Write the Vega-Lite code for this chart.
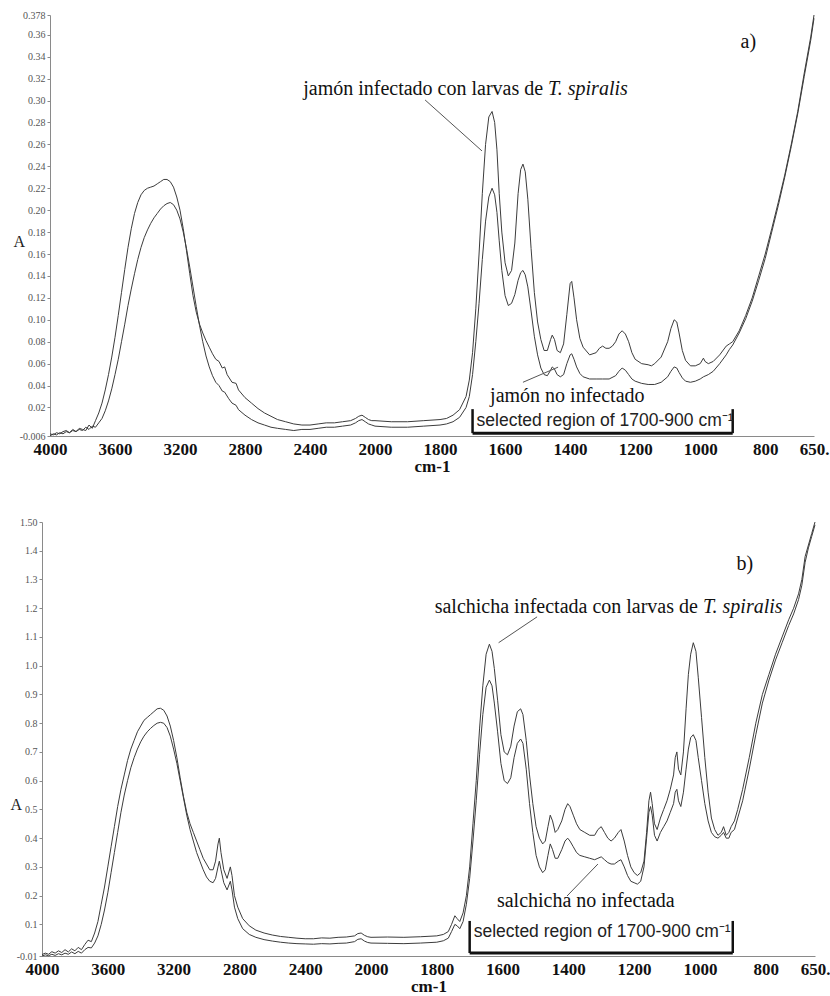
{
"$schema": "https://vega.github.io/schema/vega-lite/v6.json",
"background": "white",
"padding": {"left": 10, "top": 10, "right": 0, "bottom": 0},
"bounds": "flush",
"spacing": 86,
"config": {"view": {"stroke": null}, "font": "Liberation Serif"},
"datasets": {
"a": [
{"series":"inf","wn":4000,"abs":-0.004},{"series":"inf","wn":3980,"abs":-0.005},{"series":"inf","wn":3960,"abs":-0.003},{"series":"inf","wn":3940,"abs":-0.004},{"series":"inf","wn":3920,"abs":-0.002},{"series":"inf","wn":3900,"abs":-0.001},{"series":"inf","wn":3880,"abs":-0.003},{"series":"inf","wn":3860,"abs":0.0},{"series":"inf","wn":3840,"abs":-0.002},{"series":"inf","wn":3820,"abs":0.001},{"series":"inf","wn":3800,"abs":0.0},{"series":"inf","wn":3780,"abs":-0.001},{"series":"inf","wn":3760,"abs":0.004},{"series":"inf","wn":3740,"abs":0.001},{"series":"inf","wn":3720,"abs":0.008},{"series":"inf","wn":3700,"abs":0.015},{"series":"inf","wn":3680,"abs":0.024},{"series":"inf","wn":3660,"abs":0.036},{"series":"inf","wn":3640,"abs":0.05},{"series":"inf","wn":3620,"abs":0.066},{"series":"inf","wn":3600,"abs":0.084},{"series":"inf","wn":3580,"abs":0.104},{"series":"inf","wn":3560,"abs":0.125},{"series":"inf","wn":3540,"abs":0.146},{"series":"inf","wn":3520,"abs":0.166},{"series":"inf","wn":3500,"abs":0.183},{"series":"inf","wn":3480,"abs":0.197},{"series":"inf","wn":3460,"abs":0.207},{"series":"inf","wn":3440,"abs":0.214},{"series":"inf","wn":3420,"abs":0.218},{"series":"inf","wn":3400,"abs":0.22},{"series":"inf","wn":3380,"abs":0.221},{"series":"inf","wn":3360,"abs":0.222},{"series":"inf","wn":3340,"abs":0.224},{"series":"inf","wn":3320,"abs":0.226},{"series":"inf","wn":3300,"abs":0.228},{"series":"inf","wn":3280,"abs":0.228},{"series":"inf","wn":3260,"abs":0.226},{"series":"inf","wn":3240,"abs":0.221},{"series":"inf","wn":3220,"abs":0.212},{"series":"inf","wn":3200,"abs":0.2},{"series":"inf","wn":3180,"abs":0.183},{"series":"inf","wn":3160,"abs":0.163},{"series":"inf","wn":3140,"abs":0.142},{"series":"inf","wn":3120,"abs":0.122},{"series":"inf","wn":3100,"abs":0.107},{"series":"inf","wn":3080,"abs":0.096},{"series":"inf","wn":3060,"abs":0.088},{"series":"inf","wn":3040,"abs":0.081},{"series":"inf","wn":3020,"abs":0.075},{"series":"inf","wn":3000,"abs":0.069},{"series":"inf","wn":2980,"abs":0.064},{"series":"inf","wn":2960,"abs":0.062},{"series":"inf","wn":2940,"abs":0.056},{"series":"inf","wn":2925,"abs":0.057},{"series":"inf","wn":2910,"abs":0.05},{"series":"inf","wn":2880,"abs":0.043},{"series":"inf","wn":2855,"abs":0.042},{"series":"inf","wn":2840,"abs":0.036},{"series":"inf","wn":2800,"abs":0.029},{"series":"inf","wn":2760,"abs":0.024},{"series":"inf","wn":2720,"abs":0.019},{"series":"inf","wn":2680,"abs":0.015},{"series":"inf","wn":2640,"abs":0.012},{"series":"inf","wn":2600,"abs":0.009},{"series":"inf","wn":2550,"abs":0.007},{"series":"inf","wn":2500,"abs":0.005},{"series":"inf","wn":2450,"abs":0.004},{"series":"inf","wn":2400,"abs":0.004},{"series":"inf","wn":2350,"abs":0.005},{"series":"inf","wn":2300,"abs":0.006},{"series":"inf","wn":2250,"abs":0.006},{"series":"inf","wn":2200,"abs":0.007},{"series":"inf","wn":2150,"abs":0.008},{"series":"inf","wn":2120,"abs":0.01},{"series":"inf","wn":2100,"abs":0.012},{"series":"inf","wn":2080,"abs":0.013},{"series":"inf","wn":2060,"abs":0.011},{"series":"inf","wn":2040,"abs":0.009},{"series":"inf","wn":2020,"abs":0.008},{"series":"inf","wn":2000,"abs":0.008},{"series":"inf","wn":1950,"abs":0.007},{"series":"inf","wn":1900,"abs":0.007},{"series":"inf","wn":1850,"abs":0.008},{"series":"inf","wn":1800,"abs":0.009},{"series":"inf","wn":1780,"abs":0.01},{"series":"inf","wn":1760,"abs":0.013},{"series":"inf","wn":1740,"abs":0.018},{"series":"inf","wn":1720,"abs":0.03},{"series":"inf","wn":1710,"abs":0.045},{"series":"inf","wn":1700,"abs":0.07},{"series":"inf","wn":1690,"abs":0.11},{"series":"inf","wn":1680,"abs":0.16},{"series":"inf","wn":1670,"abs":0.215},{"series":"inf","wn":1660,"abs":0.26},{"series":"inf","wn":1650,"abs":0.285},{"series":"inf","wn":1640,"abs":0.29},{"series":"inf","wn":1632,"abs":0.28},{"series":"inf","wn":1625,"abs":0.255},{"series":"inf","wn":1618,"abs":0.215},{"series":"inf","wn":1610,"abs":0.18},{"series":"inf","wn":1600,"abs":0.152},{"series":"inf","wn":1590,"abs":0.14},{"series":"inf","wn":1580,"abs":0.145},{"series":"inf","wn":1570,"abs":0.17},{"series":"inf","wn":1560,"abs":0.215},{"series":"inf","wn":1552,"abs":0.237},{"series":"inf","wn":1545,"abs":0.242},{"series":"inf","wn":1538,"abs":0.235},{"series":"inf","wn":1530,"abs":0.21},{"series":"inf","wn":1520,"abs":0.165},{"series":"inf","wn":1510,"abs":0.125},{"series":"inf","wn":1500,"abs":0.098},{"series":"inf","wn":1490,"abs":0.082},{"series":"inf","wn":1480,"abs":0.072},{"series":"inf","wn":1470,"abs":0.072},{"series":"inf","wn":1460,"abs":0.082},{"series":"inf","wn":1455,"abs":0.086},{"series":"inf","wn":1448,"abs":0.082},{"series":"inf","wn":1440,"abs":0.072},{"series":"inf","wn":1430,"abs":0.07},{"series":"inf","wn":1420,"abs":0.078},{"series":"inf","wn":1410,"abs":0.105},{"series":"inf","wn":1400,"abs":0.133},{"series":"inf","wn":1395,"abs":0.135},{"series":"inf","wn":1388,"abs":0.12},{"series":"inf","wn":1380,"abs":0.1},{"series":"inf","wn":1370,"abs":0.083},{"series":"inf","wn":1360,"abs":0.075},{"series":"inf","wn":1340,"abs":0.068},{"series":"inf","wn":1320,"abs":0.07},{"series":"inf","wn":1310,"abs":0.074},{"series":"inf","wn":1300,"abs":0.076},{"series":"inf","wn":1290,"abs":0.074},{"series":"inf","wn":1280,"abs":0.074},{"series":"inf","wn":1270,"abs":0.076},{"series":"inf","wn":1260,"abs":0.08},{"series":"inf","wn":1250,"abs":0.087},{"series":"inf","wn":1240,"abs":0.09},{"series":"inf","wn":1230,"abs":0.087},{"series":"inf","wn":1220,"abs":0.08},{"series":"inf","wn":1210,"abs":0.07},{"series":"inf","wn":1200,"abs":0.064},{"series":"inf","wn":1180,"abs":0.06},{"series":"inf","wn":1160,"abs":0.059},{"series":"inf","wn":1150,"abs":0.058},{"series":"inf","wn":1140,"abs":0.06},{"series":"inf","wn":1120,"abs":0.066},{"series":"inf","wn":1100,"abs":0.08},{"series":"inf","wn":1090,"abs":0.092},{"series":"inf","wn":1080,"abs":0.1},{"series":"inf","wn":1072,"abs":0.098},{"series":"inf","wn":1065,"abs":0.088},{"series":"inf","wn":1055,"abs":0.072},{"series":"inf","wn":1045,"abs":0.063},{"series":"inf","wn":1030,"abs":0.058},{"series":"inf","wn":1015,"abs":0.058},{"series":"inf","wn":1000,"abs":0.06},{"series":"inf","wn":990,"abs":0.065},{"series":"inf","wn":985,"abs":0.062},{"series":"inf","wn":975,"abs":0.06},{"series":"inf","wn":960,"abs":0.062},{"series":"inf","wn":940,"abs":0.068},{"series":"inf","wn":920,"abs":0.076},{"series":"inf","wn":910,"abs":0.078},{"series":"inf","wn":900,"abs":0.08},{"series":"inf","wn":880,"abs":0.09},{"series":"inf","wn":860,"abs":0.104},{"series":"inf","wn":840,"abs":0.12},{"series":"inf","wn":820,"abs":0.14},{"series":"inf","wn":800,"abs":0.16},{"series":"inf","wn":780,"abs":0.183},{"series":"inf","wn":760,"abs":0.207},{"series":"inf","wn":740,"abs":0.232},{"series":"inf","wn":720,"abs":0.26},{"series":"inf","wn":700,"abs":0.29},{"series":"inf","wn":680,"abs":0.325},{"series":"inf","wn":660,"abs":0.358},{"series":"inf","wn":650,"abs":0.378},
{"series":"non","wn":4000,"abs":-0.006},{"series":"non","wn":3980,"abs":-0.004},{"series":"non","wn":3960,"abs":-0.005},{"series":"non","wn":3940,"abs":-0.003},{"series":"non","wn":3920,"abs":-0.004},{"series":"non","wn":3900,"abs":-0.002},{"series":"non","wn":3880,"abs":-0.003},{"series":"non","wn":3860,"abs":-0.001},{"series":"non","wn":3840,"abs":-0.002},{"series":"non","wn":3820,"abs":0.0},{"series":"non","wn":3800,"abs":-0.001},{"series":"non","wn":3780,"abs":0.002},{"series":"non","wn":3760,"abs":0.0},{"series":"non","wn":3740,"abs":0.003},{"series":"non","wn":3720,"abs":0.002},{"series":"non","wn":3700,"abs":0.006},{"series":"non","wn":3680,"abs":0.01},{"series":"non","wn":3660,"abs":0.017},{"series":"non","wn":3640,"abs":0.026},{"series":"non","wn":3620,"abs":0.037},{"series":"non","wn":3600,"abs":0.05},{"series":"non","wn":3580,"abs":0.064},{"series":"non","wn":3560,"abs":0.08},{"series":"non","wn":3540,"abs":0.096},{"series":"non","wn":3520,"abs":0.113},{"series":"non","wn":3500,"abs":0.128},{"series":"non","wn":3480,"abs":0.142},{"series":"non","wn":3460,"abs":0.155},{"series":"non","wn":3440,"abs":0.166},{"series":"non","wn":3420,"abs":0.175},{"series":"non","wn":3400,"abs":0.182},{"series":"non","wn":3380,"abs":0.188},{"series":"non","wn":3360,"abs":0.193},{"series":"non","wn":3340,"abs":0.197},{"series":"non","wn":3320,"abs":0.201},{"series":"non","wn":3300,"abs":0.204},{"series":"non","wn":3280,"abs":0.206},{"series":"non","wn":3260,"abs":0.207},{"series":"non","wn":3240,"abs":0.205},{"series":"non","wn":3220,"abs":0.2},{"series":"non","wn":3200,"abs":0.192},{"series":"non","wn":3180,"abs":0.18},{"series":"non","wn":3160,"abs":0.165},{"series":"non","wn":3140,"abs":0.148},{"series":"non","wn":3120,"abs":0.13},{"series":"non","wn":3100,"abs":0.112},{"series":"non","wn":3080,"abs":0.095},{"series":"non","wn":3060,"abs":0.08},{"series":"non","wn":3040,"abs":0.067},{"series":"non","wn":3020,"abs":0.057},{"series":"non","wn":3000,"abs":0.049},{"series":"non","wn":2980,"abs":0.043},{"series":"non","wn":2960,"abs":0.04},{"series":"non","wn":2940,"abs":0.035},{"series":"non","wn":2925,"abs":0.034},{"series":"non","wn":2900,"abs":0.028},{"series":"non","wn":2880,"abs":0.024},{"series":"non","wn":2855,"abs":0.022},{"series":"non","wn":2840,"abs":0.018},{"series":"non","wn":2800,"abs":0.013},{"series":"non","wn":2760,"abs":0.009},{"series":"non","wn":2720,"abs":0.006},{"series":"non","wn":2680,"abs":0.004},{"series":"non","wn":2640,"abs":0.002},{"series":"non","wn":2600,"abs":0.001},{"series":"non","wn":2550,"abs":0.0},{"series":"non","wn":2500,"abs":-0.001},{"series":"non","wn":2450,"abs":0.0},{"series":"non","wn":2400,"abs":0.0},{"series":"non","wn":2350,"abs":0.001},{"series":"non","wn":2300,"abs":0.002},{"series":"non","wn":2250,"abs":0.002},{"series":"non","wn":2200,"abs":0.003},{"series":"non","wn":2150,"abs":0.004},{"series":"non","wn":2120,"abs":0.006},{"series":"non","wn":2100,"abs":0.008},{"series":"non","wn":2080,"abs":0.009},{"series":"non","wn":2060,"abs":0.007},{"series":"non","wn":2040,"abs":0.005},{"series":"non","wn":2020,"abs":0.004},{"series":"non","wn":2000,"abs":0.003},{"series":"non","wn":1950,"abs":0.002},{"series":"non","wn":1900,"abs":0.002},{"series":"non","wn":1850,"abs":0.003},{"series":"non","wn":1800,"abs":0.004},{"series":"non","wn":1780,"abs":0.005},{"series":"non","wn":1760,"abs":0.007},{"series":"non","wn":1740,"abs":0.011},{"series":"non","wn":1720,"abs":0.02},{"series":"non","wn":1710,"abs":0.03},{"series":"non","wn":1700,"abs":0.05},{"series":"non","wn":1690,"abs":0.08},{"series":"non","wn":1680,"abs":0.115},{"series":"non","wn":1670,"abs":0.155},{"series":"non","wn":1660,"abs":0.19},{"series":"non","wn":1650,"abs":0.212},{"series":"non","wn":1640,"abs":0.22},{"series":"non","wn":1632,"abs":0.214},{"series":"non","wn":1625,"abs":0.198},{"series":"non","wn":1618,"abs":0.172},{"series":"non","wn":1610,"abs":0.145},{"series":"non","wn":1600,"abs":0.122},{"series":"non","wn":1590,"abs":0.113},{"series":"non","wn":1580,"abs":0.115},{"series":"non","wn":1570,"abs":0.123},{"series":"non","wn":1560,"abs":0.136},{"series":"non","wn":1552,"abs":0.143},{"series":"non","wn":1545,"abs":0.145},{"series":"non","wn":1538,"abs":0.141},{"series":"non","wn":1530,"abs":0.13},{"series":"non","wn":1520,"abs":0.108},{"series":"non","wn":1510,"abs":0.085},{"series":"non","wn":1500,"abs":0.068},{"series":"non","wn":1490,"abs":0.056},{"series":"non","wn":1480,"abs":0.05},{"series":"non","wn":1470,"abs":0.049},{"series":"non","wn":1460,"abs":0.054},{"series":"non","wn":1455,"abs":0.057},{"series":"non","wn":1448,"abs":0.055},{"series":"non","wn":1440,"abs":0.05},{"series":"non","wn":1430,"abs":0.048},{"series":"non","wn":1420,"abs":0.05},{"series":"non","wn":1410,"abs":0.06},{"series":"non","wn":1400,"abs":0.068},{"series":"non","wn":1395,"abs":0.069},{"series":"non","wn":1388,"abs":0.064},{"series":"non","wn":1380,"abs":0.057},{"series":"non","wn":1370,"abs":0.051},{"series":"non","wn":1360,"abs":0.048},{"series":"non","wn":1340,"abs":0.046},{"series":"non","wn":1320,"abs":0.046},{"series":"non","wn":1300,"abs":0.046},{"series":"non","wn":1280,"abs":0.046},{"series":"non","wn":1260,"abs":0.049},{"series":"non","wn":1250,"abs":0.053},{"series":"non","wn":1240,"abs":0.056},{"series":"non","wn":1230,"abs":0.054},{"series":"non","wn":1220,"abs":0.05},{"series":"non","wn":1210,"abs":0.046},{"series":"non","wn":1200,"abs":0.044},{"series":"non","wn":1180,"abs":0.042},{"series":"non","wn":1160,"abs":0.041},{"series":"non","wn":1140,"abs":0.041},{"series":"non","wn":1120,"abs":0.043},{"series":"non","wn":1100,"abs":0.048},{"series":"non","wn":1090,"abs":0.053},{"series":"non","wn":1080,"abs":0.057},{"series":"non","wn":1072,"abs":0.056},{"series":"non","wn":1065,"abs":0.052},{"series":"non","wn":1055,"abs":0.047},{"series":"non","wn":1045,"abs":0.044},{"series":"non","wn":1030,"abs":0.043},{"series":"non","wn":1015,"abs":0.044},{"series":"non","wn":1000,"abs":0.046},{"series":"non","wn":990,"abs":0.048},{"series":"non","wn":975,"abs":0.05},{"series":"non","wn":960,"abs":0.053},{"series":"non","wn":940,"abs":0.06},{"series":"non","wn":920,"abs":0.068},{"series":"non","wn":910,"abs":0.073},{"series":"non","wn":900,"abs":0.077},{"series":"non","wn":880,"abs":0.088},{"series":"non","wn":860,"abs":0.101},{"series":"non","wn":840,"abs":0.117},{"series":"non","wn":820,"abs":0.136},{"series":"non","wn":800,"abs":0.156},{"series":"non","wn":780,"abs":0.18},{"series":"non","wn":760,"abs":0.204},{"series":"non","wn":740,"abs":0.23},{"series":"non","wn":720,"abs":0.258},{"series":"non","wn":700,"abs":0.288},{"series":"non","wn":680,"abs":0.322},{"series":"non","wn":660,"abs":0.355},{"series":"non","wn":650,"abs":0.375}
],
"b": [
{"series":"inf","wn":4000,"abs":-0.005},{"series":"inf","wn":3980,"abs":0.0},{"series":"inf","wn":3960,"abs":-0.004},{"series":"inf","wn":3940,"abs":0.005},{"series":"inf","wn":3920,"abs":0.0},{"series":"inf","wn":3900,"abs":0.008},{"series":"inf","wn":3880,"abs":0.002},{"series":"inf","wn":3860,"abs":0.012},{"series":"inf","wn":3840,"abs":0.004},{"series":"inf","wn":3820,"abs":0.015},{"series":"inf","wn":3800,"abs":0.008},{"series":"inf","wn":3780,"abs":0.02},{"series":"inf","wn":3760,"abs":0.012},{"series":"inf","wn":3740,"abs":0.03},{"series":"inf","wn":3720,"abs":0.045},{"series":"inf","wn":3700,"abs":0.04},{"series":"inf","wn":3680,"abs":0.07},{"series":"inf","wn":3660,"abs":0.11},{"series":"inf","wn":3640,"abs":0.17},{"series":"inf","wn":3620,"abs":0.23},{"series":"inf","wn":3600,"abs":0.3},{"series":"inf","wn":3580,"abs":0.37},{"series":"inf","wn":3560,"abs":0.44},{"series":"inf","wn":3540,"abs":0.51},{"series":"inf","wn":3520,"abs":0.57},{"series":"inf","wn":3500,"abs":0.62},{"series":"inf","wn":3480,"abs":0.67},{"series":"inf","wn":3460,"abs":0.71},{"series":"inf","wn":3440,"abs":0.74},{"series":"inf","wn":3420,"abs":0.77},{"series":"inf","wn":3400,"abs":0.79},{"series":"inf","wn":3380,"abs":0.81},{"series":"inf","wn":3360,"abs":0.82},{"series":"inf","wn":3340,"abs":0.83},{"series":"inf","wn":3320,"abs":0.84},{"series":"inf","wn":3300,"abs":0.85},{"series":"inf","wn":3280,"abs":0.852},{"series":"inf","wn":3260,"abs":0.845},{"series":"inf","wn":3240,"abs":0.825},{"series":"inf","wn":3220,"abs":0.79},{"series":"inf","wn":3200,"abs":0.74},{"series":"inf","wn":3180,"abs":0.68},{"series":"inf","wn":3160,"abs":0.61},{"series":"inf","wn":3140,"abs":0.545},{"series":"inf","wn":3120,"abs":0.49},{"series":"inf","wn":3100,"abs":0.45},{"series":"inf","wn":3080,"abs":0.42},{"series":"inf","wn":3060,"abs":0.39},{"series":"inf","wn":3040,"abs":0.36},{"series":"inf","wn":3020,"abs":0.33},{"series":"inf","wn":3000,"abs":0.31},{"series":"inf","wn":2980,"abs":0.29},{"series":"inf","wn":2960,"abs":0.29},{"series":"inf","wn":2945,"abs":0.32},{"series":"inf","wn":2930,"abs":0.38},{"series":"inf","wn":2922,"abs":0.4},{"series":"inf","wn":2912,"abs":0.35},{"series":"inf","wn":2895,"abs":0.29},{"series":"inf","wn":2875,"abs":0.26},{"series":"inf","wn":2855,"abs":0.3},{"series":"inf","wn":2845,"abs":0.27},{"series":"inf","wn":2830,"abs":0.2},{"series":"inf","wn":2810,"abs":0.16},{"series":"inf","wn":2780,"abs":0.12},{"series":"inf","wn":2740,"abs":0.095},{"series":"inf","wn":2700,"abs":0.08},{"series":"inf","wn":2650,"abs":0.07},{"series":"inf","wn":2600,"abs":0.063},{"series":"inf","wn":2550,"abs":0.058},{"series":"inf","wn":2500,"abs":0.055},{"series":"inf","wn":2450,"abs":0.052},{"series":"inf","wn":2400,"abs":0.05},{"series":"inf","wn":2350,"abs":0.05},{"series":"inf","wn":2300,"abs":0.053},{"series":"inf","wn":2250,"abs":0.052},{"series":"inf","wn":2200,"abs":0.055},{"series":"inf","wn":2150,"abs":0.056},{"series":"inf","wn":2100,"abs":0.06},{"series":"inf","wn":2080,"abs":0.068},{"series":"inf","wn":2060,"abs":0.07},{"series":"inf","wn":2040,"abs":0.062},{"series":"inf","wn":2020,"abs":0.057},{"series":"inf","wn":2000,"abs":0.055},{"series":"inf","wn":1950,"abs":0.056},{"series":"inf","wn":1900,"abs":0.055},{"series":"inf","wn":1850,"abs":0.057},{"series":"inf","wn":1800,"abs":0.06},{"series":"inf","wn":1780,"abs":0.065},{"series":"inf","wn":1765,"abs":0.075},{"series":"inf","wn":1755,"abs":0.1},{"series":"inf","wn":1745,"abs":0.13},{"series":"inf","wn":1738,"abs":0.12},{"series":"inf","wn":1730,"abs":0.11},{"series":"inf","wn":1720,"abs":0.14},{"series":"inf","wn":1710,"abs":0.2},{"series":"inf","wn":1700,"abs":0.3},{"series":"inf","wn":1690,"abs":0.45},{"series":"inf","wn":1680,"abs":0.6},{"series":"inf","wn":1670,"abs":0.78},{"series":"inf","wn":1660,"abs":0.93},{"series":"inf","wn":1650,"abs":1.04},{"series":"inf","wn":1640,"abs":1.075},{"series":"inf","wn":1632,"abs":1.05},{"series":"inf","wn":1625,"abs":0.99},{"series":"inf","wn":1615,"abs":0.88},{"series":"inf","wn":1605,"abs":0.76},{"series":"inf","wn":1595,"abs":0.7},{"series":"inf","wn":1585,"abs":0.69},{"series":"inf","wn":1575,"abs":0.72},{"series":"inf","wn":1565,"abs":0.79},{"series":"inf","wn":1555,"abs":0.84},{"series":"inf","wn":1545,"abs":0.85},{"series":"inf","wn":1538,"abs":0.83},{"series":"inf","wn":1528,"abs":0.74},{"series":"inf","wn":1518,"abs":0.62},{"series":"inf","wn":1508,"abs":0.52},{"series":"inf","wn":1498,"abs":0.44},{"series":"inf","wn":1488,"abs":0.4},{"series":"inf","wn":1478,"abs":0.38},{"series":"inf","wn":1470,"abs":0.39},{"series":"inf","wn":1462,"abs":0.44},{"series":"inf","wn":1455,"abs":0.48},{"series":"inf","wn":1448,"abs":0.46},{"series":"inf","wn":1440,"abs":0.42},{"series":"inf","wn":1432,"abs":0.43},{"series":"inf","wn":1420,"abs":0.46},{"series":"inf","wn":1410,"abs":0.5},{"series":"inf","wn":1402,"abs":0.52},{"series":"inf","wn":1395,"abs":0.51},{"series":"inf","wn":1385,"abs":0.48},{"series":"inf","wn":1375,"abs":0.45},{"series":"inf","wn":1365,"abs":0.43},{"series":"inf","wn":1350,"abs":0.42},{"series":"inf","wn":1335,"abs":0.41},{"series":"inf","wn":1320,"abs":0.41},{"series":"inf","wn":1310,"abs":0.43},{"series":"inf","wn":1300,"abs":0.44},{"series":"inf","wn":1290,"abs":0.42},{"series":"inf","wn":1280,"abs":0.4},{"series":"inf","wn":1270,"abs":0.39},{"series":"inf","wn":1260,"abs":0.4},{"series":"inf","wn":1248,"abs":0.42},{"series":"inf","wn":1240,"abs":0.43},{"series":"inf","wn":1230,"abs":0.39},{"series":"inf","wn":1220,"abs":0.34},{"series":"inf","wn":1210,"abs":0.3},{"series":"inf","wn":1200,"abs":0.28},{"series":"inf","wn":1190,"abs":0.27},{"series":"inf","wn":1180,"abs":0.28},{"series":"inf","wn":1170,"abs":0.32},{"series":"inf","wn":1162,"abs":0.42},{"series":"inf","wn":1155,"abs":0.53},{"series":"inf","wn":1150,"abs":0.56},{"series":"inf","wn":1145,"abs":0.52},{"series":"inf","wn":1138,"abs":0.45},{"series":"inf","wn":1130,"abs":0.43},{"series":"inf","wn":1120,"abs":0.47},{"series":"inf","wn":1110,"abs":0.5},{"series":"inf","wn":1100,"abs":0.53},{"series":"inf","wn":1090,"abs":0.57},{"series":"inf","wn":1080,"abs":0.62},{"series":"inf","wn":1075,"abs":0.68},{"series":"inf","wn":1070,"abs":0.7},{"series":"inf","wn":1065,"abs":0.64},{"series":"inf","wn":1058,"abs":0.62},{"series":"inf","wn":1050,"abs":0.7},{"series":"inf","wn":1042,"abs":0.85},{"series":"inf","wn":1035,"abs":0.97},{"series":"inf","wn":1028,"abs":1.04},{"series":"inf","wn":1020,"abs":1.08},{"series":"inf","wn":1012,"abs":1.05},{"series":"inf","wn":1005,"abs":0.96},{"series":"inf","wn":995,"abs":0.82},{"series":"inf","wn":985,"abs":0.68},{"series":"inf","wn":975,"abs":0.56},{"series":"inf","wn":965,"abs":0.47},{"series":"inf","wn":955,"abs":0.43},{"series":"inf","wn":945,"abs":0.41},{"series":"inf","wn":935,"abs":0.42},{"series":"inf","wn":928,"abs":0.44},{"series":"inf","wn":920,"abs":0.41},{"series":"inf","wn":912,"abs":0.42},{"series":"inf","wn":905,"abs":0.44},{"series":"inf","wn":895,"abs":0.46},{"series":"inf","wn":885,"abs":0.5},{"series":"inf","wn":870,"abs":0.57},{"series":"inf","wn":850,"abs":0.68},{"series":"inf","wn":830,"abs":0.8},{"series":"inf","wn":810,"abs":0.9},{"series":"inf","wn":790,"abs":0.97},{"series":"inf","wn":770,"abs":1.04},{"series":"inf","wn":750,"abs":1.1},{"series":"inf","wn":730,"abs":1.16},{"series":"inf","wn":715,"abs":1.2},{"series":"inf","wn":700,"abs":1.25},{"series":"inf","wn":690,"abs":1.3},{"series":"inf","wn":680,"abs":1.38},{"series":"inf","wn":670,"abs":1.42},{"series":"inf","wn":660,"abs":1.46},{"series":"inf","wn":650,"abs":1.5},
{"series":"non","wn":4000,"abs":-0.01},{"series":"non","wn":3980,"abs":-0.006},{"series":"non","wn":3960,"abs":-0.009},{"series":"non","wn":3940,"abs":-0.004},{"series":"non","wn":3920,"abs":-0.008},{"series":"non","wn":3900,"abs":-0.002},{"series":"non","wn":3880,"abs":-0.006},{"series":"non","wn":3860,"abs":0.0},{"series":"non","wn":3840,"abs":-0.004},{"series":"non","wn":3820,"abs":0.004},{"series":"non","wn":3800,"abs":-0.002},{"series":"non","wn":3780,"abs":0.006},{"series":"non","wn":3760,"abs":0.0},{"series":"non","wn":3740,"abs":0.012},{"series":"non","wn":3720,"abs":0.02},{"series":"non","wn":3700,"abs":0.018},{"series":"non","wn":3680,"abs":0.035},{"series":"non","wn":3660,"abs":0.06},{"series":"non","wn":3640,"abs":0.1},{"series":"non","wn":3620,"abs":0.15},{"series":"non","wn":3600,"abs":0.21},{"series":"non","wn":3580,"abs":0.28},{"series":"non","wn":3560,"abs":0.35},{"series":"non","wn":3540,"abs":0.42},{"series":"non","wn":3520,"abs":0.49},{"series":"non","wn":3500,"abs":0.55},{"series":"non","wn":3480,"abs":0.6},{"series":"non","wn":3460,"abs":0.645},{"series":"non","wn":3440,"abs":0.68},{"series":"non","wn":3420,"abs":0.71},{"series":"non","wn":3400,"abs":0.735},{"series":"non","wn":3380,"abs":0.755},{"series":"non","wn":3360,"abs":0.77},{"series":"non","wn":3340,"abs":0.782},{"series":"non","wn":3320,"abs":0.792},{"series":"non","wn":3300,"abs":0.8},{"series":"non","wn":3280,"abs":0.803},{"series":"non","wn":3260,"abs":0.8},{"series":"non","wn":3240,"abs":0.785},{"series":"non","wn":3220,"abs":0.755},{"series":"non","wn":3200,"abs":0.71},{"series":"non","wn":3180,"abs":0.66},{"series":"non","wn":3160,"abs":0.6},{"series":"non","wn":3140,"abs":0.54},{"series":"non","wn":3120,"abs":0.48},{"series":"non","wn":3100,"abs":0.43},{"series":"non","wn":3080,"abs":0.39},{"series":"non","wn":3060,"abs":0.35},{"series":"non","wn":3040,"abs":0.32},{"series":"non","wn":3020,"abs":0.29},{"series":"non","wn":3000,"abs":0.265},{"series":"non","wn":2980,"abs":0.25},{"series":"non","wn":2960,"abs":0.245},{"series":"non","wn":2945,"abs":0.26},{"series":"non","wn":2930,"abs":0.3},{"series":"non","wn":2922,"abs":0.32},{"series":"non","wn":2912,"abs":0.29},{"series":"non","wn":2895,"abs":0.245},{"series":"non","wn":2875,"abs":0.22},{"series":"non","wn":2855,"abs":0.25},{"series":"non","wn":2845,"abs":0.22},{"series":"non","wn":2830,"abs":0.16},{"series":"non","wn":2810,"abs":0.12},{"series":"non","wn":2780,"abs":0.085},{"series":"non","wn":2740,"abs":0.065},{"series":"non","wn":2700,"abs":0.055},{"series":"non","wn":2650,"abs":0.047},{"series":"non","wn":2600,"abs":0.042},{"series":"non","wn":2550,"abs":0.038},{"series":"non","wn":2500,"abs":0.035},{"series":"non","wn":2450,"abs":0.033},{"series":"non","wn":2400,"abs":0.032},{"series":"non","wn":2350,"abs":0.031},{"series":"non","wn":2300,"abs":0.033},{"series":"non","wn":2250,"abs":0.032},{"series":"non","wn":2200,"abs":0.034},{"series":"non","wn":2150,"abs":0.035},{"series":"non","wn":2100,"abs":0.04},{"series":"non","wn":2080,"abs":0.048},{"series":"non","wn":2060,"abs":0.05},{"series":"non","wn":2040,"abs":0.042},{"series":"non","wn":2020,"abs":0.037},{"series":"non","wn":2000,"abs":0.035},{"series":"non","wn":1950,"abs":0.034},{"series":"non","wn":1900,"abs":0.033},{"series":"non","wn":1850,"abs":0.035},{"series":"non","wn":1800,"abs":0.038},{"series":"non","wn":1780,"abs":0.043},{"series":"non","wn":1765,"abs":0.052},{"series":"non","wn":1755,"abs":0.075},{"series":"non","wn":1745,"abs":0.1},{"series":"non","wn":1738,"abs":0.095},{"series":"non","wn":1730,"abs":0.085},{"series":"non","wn":1720,"abs":0.11},{"series":"non","wn":1710,"abs":0.17},{"series":"non","wn":1700,"abs":0.26},{"series":"non","wn":1690,"abs":0.39},{"series":"non","wn":1680,"abs":0.53},{"series":"non","wn":1670,"abs":0.69},{"series":"non","wn":1660,"abs":0.83},{"series":"non","wn":1650,"abs":0.925},{"series":"non","wn":1640,"abs":0.95},{"series":"non","wn":1632,"abs":0.93},{"series":"non","wn":1625,"abs":0.87},{"series":"non","wn":1615,"abs":0.77},{"series":"non","wn":1605,"abs":0.66},{"series":"non","wn":1595,"abs":0.6},{"series":"non","wn":1585,"abs":0.59},{"series":"non","wn":1575,"abs":0.61},{"series":"non","wn":1565,"abs":0.68},{"series":"non","wn":1555,"abs":0.73},{"series":"non","wn":1545,"abs":0.745},{"series":"non","wn":1538,"abs":0.73},{"series":"non","wn":1528,"abs":0.64},{"series":"non","wn":1518,"abs":0.52},{"series":"non","wn":1508,"abs":0.42},{"series":"non","wn":1498,"abs":0.34},{"series":"non","wn":1488,"abs":0.3},{"series":"non","wn":1478,"abs":0.28},{"series":"non","wn":1470,"abs":0.29},{"series":"non","wn":1462,"abs":0.34},{"series":"non","wn":1455,"abs":0.38},{"series":"non","wn":1448,"abs":0.36},{"series":"non","wn":1440,"abs":0.33},{"series":"non","wn":1432,"abs":0.33},{"series":"non","wn":1420,"abs":0.36},{"series":"non","wn":1410,"abs":0.39},{"series":"non","wn":1402,"abs":0.4},{"series":"non","wn":1395,"abs":0.39},{"series":"non","wn":1385,"abs":0.37},{"series":"non","wn":1375,"abs":0.35},{"series":"non","wn":1365,"abs":0.34},{"series":"non","wn":1350,"abs":0.335},{"series":"non","wn":1335,"abs":0.33},{"series":"non","wn":1320,"abs":0.325},{"series":"non","wn":1310,"abs":0.33},{"series":"non","wn":1300,"abs":0.335},{"series":"non","wn":1290,"abs":0.325},{"series":"non","wn":1280,"abs":0.315},{"series":"non","wn":1270,"abs":0.31},{"series":"non","wn":1260,"abs":0.31},{"series":"non","wn":1248,"abs":0.32},{"series":"non","wn":1240,"abs":0.325},{"series":"non","wn":1230,"abs":0.3},{"series":"non","wn":1220,"abs":0.27},{"series":"non","wn":1210,"abs":0.25},{"series":"non","wn":1200,"abs":0.245},{"series":"non","wn":1190,"abs":0.24},{"series":"non","wn":1180,"abs":0.25},{"series":"non","wn":1170,"abs":0.3},{"series":"non","wn":1162,"abs":0.4},{"series":"non","wn":1155,"abs":0.49},{"series":"non","wn":1150,"abs":0.51},{"series":"non","wn":1145,"abs":0.48},{"series":"non","wn":1138,"abs":0.41},{"series":"non","wn":1130,"abs":0.39},{"series":"non","wn":1120,"abs":0.42},{"series":"non","wn":1110,"abs":0.44},{"series":"non","wn":1100,"abs":0.46},{"series":"non","wn":1090,"abs":0.49},{"series":"non","wn":1080,"abs":0.52},{"series":"non","wn":1075,"abs":0.56},{"series":"non","wn":1070,"abs":0.57},{"series":"non","wn":1065,"abs":0.53},{"series":"non","wn":1058,"abs":0.51},{"series":"non","wn":1050,"abs":0.56},{"series":"non","wn":1042,"abs":0.64},{"series":"non","wn":1035,"abs":0.71},{"series":"non","wn":1028,"abs":0.75},{"series":"non","wn":1020,"abs":0.76},{"series":"non","wn":1012,"abs":0.74},{"series":"non","wn":1005,"abs":0.68},{"series":"non","wn":995,"abs":0.6},{"series":"non","wn":985,"abs":0.52},{"series":"non","wn":975,"abs":0.46},{"series":"non","wn":965,"abs":0.42},{"series":"non","wn":955,"abs":0.405},{"series":"non","wn":945,"abs":0.4},{"series":"non","wn":935,"abs":0.41},{"series":"non","wn":928,"abs":0.42},{"series":"non","wn":920,"abs":0.4},{"series":"non","wn":912,"abs":0.4},{"series":"non","wn":905,"abs":0.42},{"series":"non","wn":895,"abs":0.43},{"series":"non","wn":885,"abs":0.47},{"series":"non","wn":870,"abs":0.53},{"series":"non","wn":850,"abs":0.64},{"series":"non","wn":830,"abs":0.76},{"series":"non","wn":810,"abs":0.87},{"series":"non","wn":790,"abs":0.95},{"series":"non","wn":770,"abs":1.02},{"series":"non","wn":750,"abs":1.08},{"series":"non","wn":730,"abs":1.14},{"series":"non","wn":715,"abs":1.18},{"series":"non","wn":700,"abs":1.23},{"series":"non","wn":690,"abs":1.28},{"series":"non","wn":680,"abs":1.36},{"series":"non","wn":670,"abs":1.41},{"series":"non","wn":660,"abs":1.45},{"series":"non","wn":650,"abs":1.49}
]
},
"vconcat": [
{
"width": 772, "height": 421,
"data": {"name": "a"},
"layer": [
{"mark": {"type": "line", "stroke": "#3c3c3c", "strokeWidth": 1},
 "encoding": {
  "x": {"field": "wn", "type": "quantitative", "title": "cm-1",
   "scale": {"domain": [4000, 2000, 650], "range": [8, 333, 772], "nice": false, "zero": false},
   "axis": {"values": [4000,3600,3200,2800,2400,2000,1800,1600,1400,1200,1000,800,650], "tickCount": 100, "format": "d", "labelExpr": "datum.value == 650 ? '650.' : datum.label", "ticks": false, "grid": false, "domainColor": "#8a8a8a", "labelFont": "Liberation Serif", "labelFontWeight": "bold", "labelFontSize": 17, "labelColor": "#111", "labelPadding": 5, "labelFlush": false, "labelOverlap": false, "titleFont": "Liberation Serif", "titleFontWeight": "bold", "titleFontSize": 17, "titleColor": "#111", "titlePadding": 1}},
  "y": {"field": "abs", "type": "quantitative", "title": "A",
   "scale": {"domain": [-0.006, 0.378], "nice": false, "zero": false},
   "axis": {"values": [-0.006,0.02,0.04,0.06,0.08,0.1,0.12,0.14,0.16,0.18,0.2,0.22,0.24,0.26,0.28,0.3,0.32,0.34,0.36,0.378], "tickCount": 100, "labelExpr": "datum.value == 0.378 ? '0.378' : (datum.value == -0.006 ? '-0.006' : format(datum.value, '.2f'))", "offset": -8, "grid": false, "tickSize": 3, "tickColor": "#8a8a8a", "domainColor": "#8a8a8a", "labelFont": "Liberation Serif", "labelFontSize": 10, "labelColor": "#555", "labelPadding": 2, "labelFlush": false, "labelOverlap": false, "titleAngle": 0, "titleX": -37, "titleY": 226, "titleAlign": "left", "titleBaseline": "middle", "titleFont": "Liberation Serif", "titleFontWeight": "normal", "titleFontSize": 16, "titleColor": "#222"}},
  "detail": {"field": "series"}
 }},
{"data": {"values": [{}]}, "mark": {"type": "rule", "stroke": "#111", "strokeWidth": 2.5}, "encoding": {"x": {"datum": 1700}, "y": {"datum": 0.0185}, "y2": {"datum": -0.0034}}},
{"data": {"values": [{}]}, "mark": {"type": "rule", "stroke": "#111", "strokeWidth": 2.5}, "encoding": {"x": {"datum": 900}, "y": {"datum": 0.0185}, "y2": {"datum": -0.0034}}},
{"data": {"values": [{}]}, "mark": {"type": "rule", "stroke": "#111", "strokeWidth": 3}, "encoding": {"x": {"datum": 1700}, "x2": {"datum": 900}, "y": {"datum": -0.0034}}},
{"data": {"values": [{}]}, "mark": {"type": "text", "font": "Liberation Sans", "fontSize": 17.5, "align": "left", "baseline": "alphabetic", "dx": 4, "color": "#222"}, "encoding": {"x": {"datum": 1700}, "y": {"datum": 0.003}, "text": {"value": "selected region of 1700-900 cm⁻¹"}}},
{"data": {"values": [{}]}, "mark": {"type": "text", "font": "Liberation Serif", "fontSize": 20, "align": "right", "baseline": "alphabetic", "color": "#111"}, "encoding": {"x": {"datum": 1483}, "y": {"datum": 0.305}, "text": {"value": "jamón infectado con larvas de"}}},
{"data": {"values": [{}]}, "mark": {"type": "text", "font": "Liberation Serif", "fontSize": 20, "fontStyle": "italic", "align": "left", "baseline": "alphabetic", "dx": 5, "color": "#111"}, "encoding": {"x": {"datum": 1483}, "y": {"datum": 0.305}, "text": {"value": "T. spiralis"}}},
{"data": {"values": [{}]}, "mark": {"type": "rule", "stroke": "#555", "strokeWidth": 1}, "encoding": {"x": {"datum": 1846}, "x2": {"datum": 1671}, "y": {"datum": 0.3005}, "y2": {"datum": 0.254}}},
{"data": {"values": [{}]}, "mark": {"type": "text", "font": "Liberation Serif", "fontSize": 20, "align": "left", "baseline": "alphabetic", "color": "#111"}, "encoding": {"x": {"datum": 1646}, "y": {"datum": 0.0249}, "text": {"value": "jamón  no infectado"}}},
{"data": {"values": [{}]}, "mark": {"type": "rule", "stroke": "#555", "strokeWidth": 1}, "encoding": {"x": {"datum": 1545}, "x2": {"datum": 1437}, "y": {"datum": 0.043}, "y2": {"datum": 0.0568}}},
{"data": {"values": [{}]}, "mark": {"type": "text", "font": "Liberation Serif", "fontSize": 20, "align": "center", "baseline": "middle", "color": "#111"}, "encoding": {"x": {"datum": 852}, "y": {"datum": 0.3534}, "text": {"value": "a)"}}}
]
},
{
"width": 773, "height": 434,
"data": {"name": "b"},
"layer": [
{"mark": {"type": "line", "stroke": "#3c3c3c", "strokeWidth": 1},
 "encoding": {
  "x": {"field": "wn", "type": "quantitative", "title": "cm-1",
   "scale": {"domain": [4000, 2000, 650], "range": [0, 329, 773], "nice": false, "zero": false},
   "axis": {"values": [4000,3600,3200,2800,2400,2000,1800,1600,1400,1200,1000,800,650], "tickCount": 100, "format": "d", "labelExpr": "datum.value == 650 ? '650.' : datum.label", "ticks": false, "grid": false, "domainColor": "#8a8a8a", "labelFont": "Liberation Serif", "labelFontWeight": "bold", "labelFontSize": 17, "labelColor": "#111", "labelPadding": 5, "labelFlush": false, "labelOverlap": false, "titleFont": "Liberation Serif", "titleFontWeight": "bold", "titleFontSize": 17, "titleColor": "#111", "titlePadding": 1}},
  "y": {"field": "abs", "type": "quantitative", "title": "A",
   "scale": {"domain": [-0.01, 1.5], "nice": false, "zero": false},
   "axis": {"values": [-0.01,0.1,0.2,0.3,0.4,0.5,0.6,0.7,0.8,0.9,1.0,1.1,1.2,1.3,1.4,1.5], "tickCount": 100, "labelExpr": "datum.value == 1.5 ? '1.50' : (datum.value == -0.01 ? '-0.01' : format(datum.value, '.1f'))", "grid": false, "tickSize": 3, "tickColor": "#8a8a8a", "domainColor": "#8a8a8a", "labelFont": "Liberation Serif", "labelFontSize": 10, "labelColor": "#555", "labelPadding": 2, "labelFlush": false, "labelOverlap": false, "titleAngle": 0, "titleX": -32, "titleY": 282, "titleAlign": "left", "titleBaseline": "middle", "titleFont": "Liberation Serif", "titleFontWeight": "normal", "titleFontSize": 16, "titleColor": "#222"}},
  "detail": {"field": "series"}
 }},
{"data": {"values": [{}]}, "mark": {"type": "rule", "stroke": "#111", "strokeWidth": 2.5}, "encoding": {"x": {"datum": 1700}, "y": {"datum": 0.112}, "y2": {"datum": 0.0004}}},
{"data": {"values": [{}]}, "mark": {"type": "rule", "stroke": "#111", "strokeWidth": 2.5}, "encoding": {"x": {"datum": 900}, "y": {"datum": 0.112}, "y2": {"datum": 0.0004}}},
{"data": {"values": [{}]}, "mark": {"type": "rule", "stroke": "#111", "strokeWidth": 3}, "encoding": {"x": {"datum": 1700}, "x2": {"datum": 900}, "y": {"datum": 0.0004}}},
{"data": {"values": [{}]}, "mark": {"type": "text", "font": "Liberation Sans", "fontSize": 17.5, "align": "left", "baseline": "alphabetic", "dx": 4, "color": "#222"}, "encoding": {"x": {"datum": 1700}, "y": {"datum": 0.056}, "text": {"value": "selected region of 1700-900 cm⁻¹"}}},
{"data": {"values": [{}]}, "mark": {"type": "text", "font": "Liberation Serif", "fontSize": 20, "align": "right", "baseline": "alphabetic", "color": "#111"}, "encoding": {"x": {"datum": 1006}, "y": {"datum": 1.183}, "text": {"value": "salchicha infectada con larvas de"}}},
{"data": {"values": [{}]}, "mark": {"type": "text", "font": "Liberation Serif", "fontSize": 20, "fontStyle": "italic", "align": "left", "baseline": "alphabetic", "dx": 5, "color": "#111"}, "encoding": {"x": {"datum": 1006}, "y": {"datum": 1.183}, "text": {"value": "T. spiralis"}}},
{"data": {"values": [{}]}, "mark": {"type": "rule", "stroke": "#555", "strokeWidth": 1}, "encoding": {"x": {"datum": 1495}, "x2": {"datum": 1612}, "y": {"datum": 1.17}, "y2": {"datum": 1.08}}},
{"data": {"values": [{}]}, "mark": {"type": "text", "font": "Liberation Serif", "fontSize": 20, "align": "left", "baseline": "alphabetic", "color": "#111"}, "encoding": {"x": {"datum": 1617}, "y": {"datum": 0.1604}, "text": {"value": "salchicha no infectada"}}},
{"data": {"values": [{}]}, "mark": {"type": "rule", "stroke": "#555", "strokeWidth": 1}, "encoding": {"x": {"datum": 1404}, "x2": {"datum": 1310}, "y": {"datum": 0.1987}, "y2": {"datum": 0.31}}},
{"data": {"values": [{}]}, "mark": {"type": "text", "font": "Liberation Serif", "fontSize": 20, "align": "center", "baseline": "middle", "color": "#111"}, "encoding": {"x": {"datum": 863}, "y": {"datum": 1.354}, "text": {"value": "b)"}}}
]
}
]
}
